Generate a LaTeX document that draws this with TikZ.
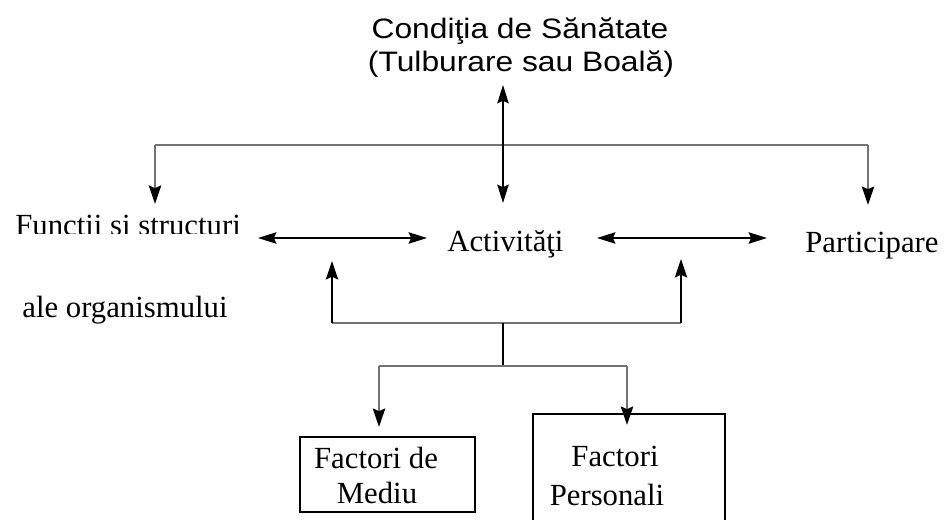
\documentclass[tikz,border=0pt]{standalone}
\usepackage{fontspec}
\setmainfont{Liberation Serif}
\newfontfamily\titlefont{Liberation Sans}
\usetikzlibrary{arrows.meta}
\begin{document}
\begin{tikzpicture}[x=0.02cm,y=-0.02cm,
  txt/.style={inner sep=0pt,font=\fontsize{17.5}{20}\selectfont},
  ttl/.style={inner sep=0pt,font=\titlefont\fontsize{16}{19}\selectfont},
  boxed/.style={draw=black,line width=1.1pt,inner sep=0pt},
  tip/.style={-{Stealth[length=10.5pt,width=7pt,inset=1.5pt,color=black]}},
  dbl/.style={{Stealth[length=10.5pt,width=6.5pt,inset=1.5pt,color=black]}-{Stealth[length=10.5pt,width=6.5pt,inset=1.5pt,color=black]}},
  blk/.style={black,line width=1pt},
  gry/.style={black!55,line width=1.3pt}]
\useasboundingbox (0,0) rectangle (947,520);
\fill[white] (0,0) rectangle (947,520);

% title
\node[ttl,anchor=base] (t1) at (520,39) {\scalebox{1.13}[1]{Condiţia de Sănătate}};
\node[ttl,anchor=base] (t2) at (521,72) {\scalebox{1.13}[1]{(Tulburare sau Boală)}};

% main row
\begin{scope}
\clip (0,200) rectangle (255,233.5);
\node[txt,anchor=base west] (fs) at (15,236) {Functii si structuri};
\end{scope}
\node[txt,anchor=base west] (ao) at (22,317) {ale organismului};
\node[txt,anchor=base west] (act) at (447,252) {Activităţi};
\node[txt,anchor=base west] (par) at (805,253) {Participare};

% boxes
\node[boxed,minimum width=3.5cm,minimum height=1.5cm] (bm) at (387.5,474.5) {};
\node[txt,anchor=base] (bm1) at (376,468) {Factori de};
\node[txt,anchor=base] (bm2) at (377,503) {Mediu};
\node[boxed,minimum width=3.84cm,minimum height=2.6cm] (bp) at (629,479) {};
\node[txt,anchor=base] (bp1) at (615,466) {Factori};
\node[txt,anchor=base] (bp2) at (607,505) {Personali};

% coordinates
\coordinate (cb) at (503,85);
\coordinate (at) at (503,203);
\coordinate (tl) at (155,145);
\coordinate (tr) at (868,145);
\coordinate (fsT) at (155,204);
\coordinate (parT) at (868,205);
\coordinate (fsR) at (258,238);
\coordinate (actL) at (427,238);
\coordinate (actR) at (597,238);
\coordinate (parL) at (767,238);
\coordinate (bl) at (332,323);
\coordinate (br) at (681,323);
\coordinate (blT) at (332,261);
\coordinate (brT) at (681,259);
\coordinate (bmid) at (503,323);
\coordinate (bj) at (503,366);
\coordinate (ml) at (379,366);
\coordinate (mr) at (627,366);
\coordinate (mlT) at (379,427);
\coordinate (mrT) at (627,425);

% top connectors
\draw[gry] (tl) -- (tr);
\draw[gry,tip] (tl) -- (fsT);
\draw[gry,tip] (tr) -- (parT);
\draw[blk,dbl] (cb) -- (at);

% horizontal double arrows
\draw[blk,dbl] (fsR) -- (actL);
\draw[blk,dbl] (actR) -- (parL);

% bottom connectors
\draw[gry] (bl) -- (br);
\draw[blk,tip] (bl) -- (blT);
\draw[blk,tip] (br) -- (brT);
\draw[blk] (bmid) -- (bj);
\draw[gry] (ml) -- (mr);
\draw[gry,tip] (ml) -- (mlT);
\draw[gry,tip] (mr) -- (mrT);
\end{tikzpicture}
\end{document}
